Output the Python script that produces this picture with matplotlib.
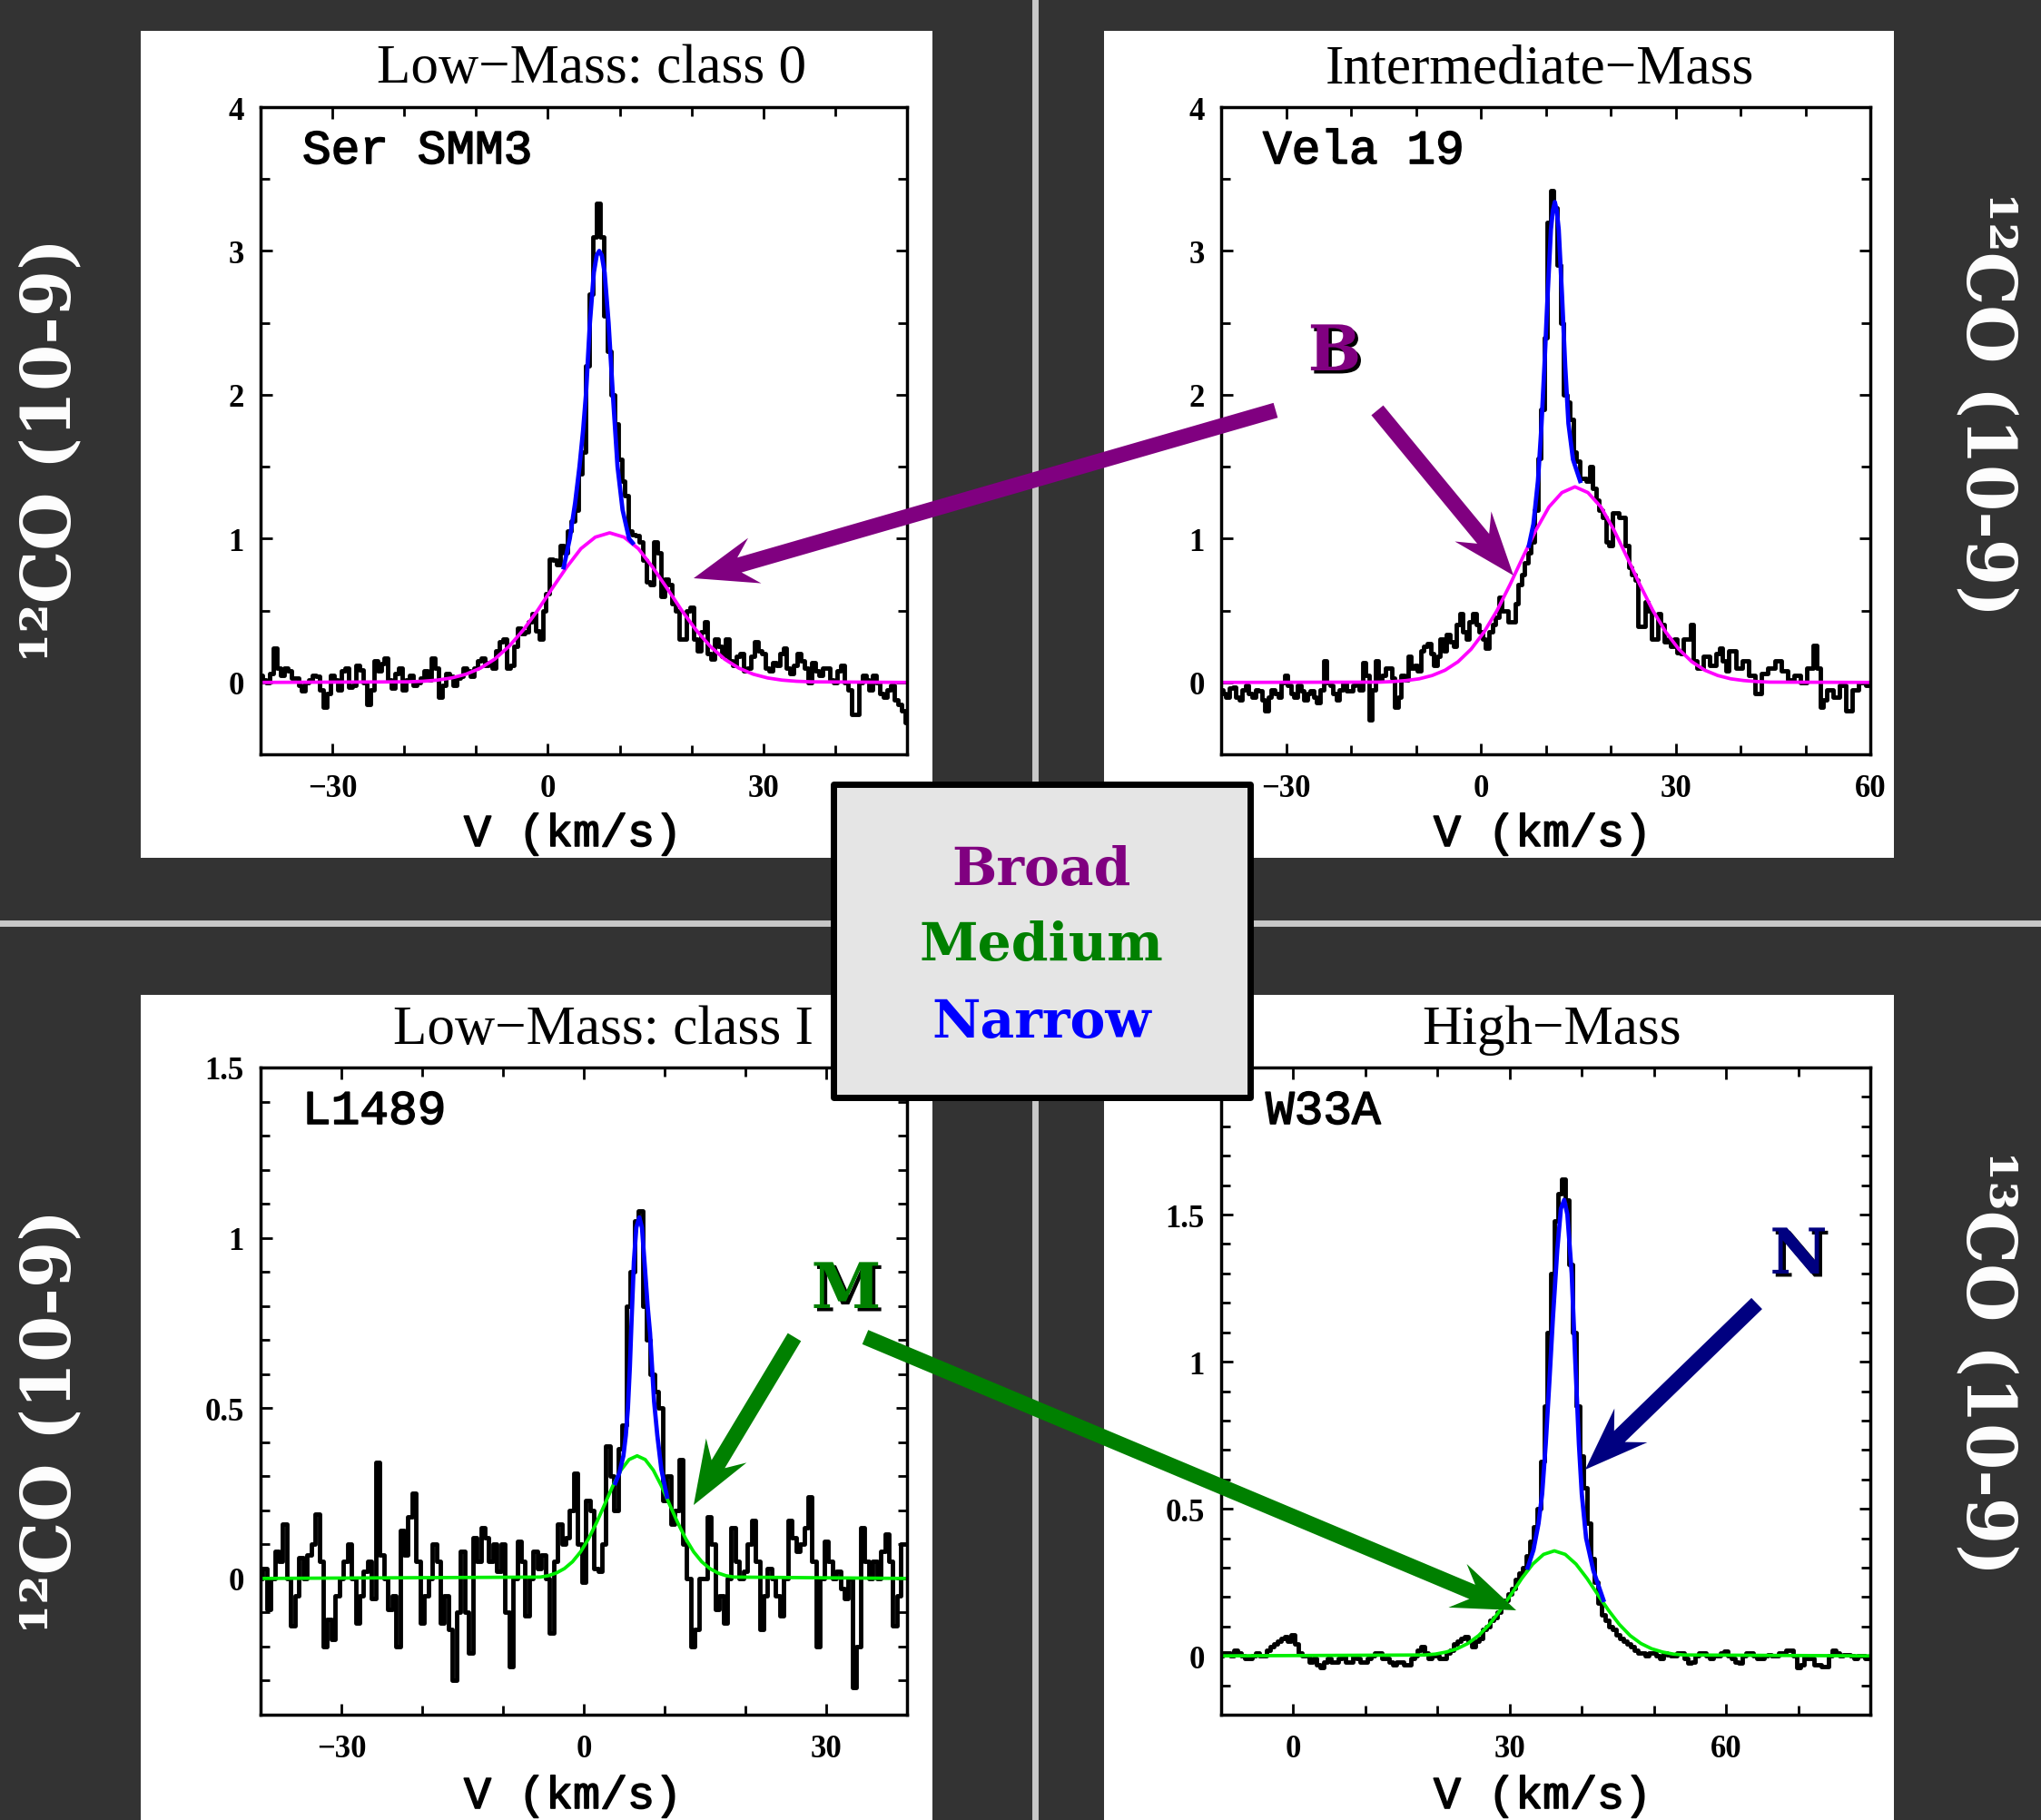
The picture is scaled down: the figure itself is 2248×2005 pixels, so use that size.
import numpy as np
import matplotlib.pyplot as plt
from matplotlib.patches import Rectangle, FancyArrow
from matplotlib.ticker import MultipleLocator
import matplotlib.patheffects as pe

W, H = 2248, 2006

# Ser SMM3 (low-mass class 0), 12CO 10-9, 0.5 km/s channels
ser_v = np.arange(-40, 50.25, 0.5)
ser_t = [0.05, 0.02, 0.0, 0.06, 0.24, 0.1, 0.05, 0.1, 0.08, 0.03,
         0.03, -0.02, -0.06, 0.0, 0.02, 0.05, 0.04, -0.05, -0.17, -0.08,
         0.05, 0.02, -0.05, 0.08, 0.1, -0.03, -0.02, 0.12, 0.09, 0.0,
         -0.15, -0.05, 0.15, 0.08, 0.13, 0.17, 0.02, -0.04, 0.06, 0.1,
         -0.05, 0.02, 0.05, -0.02, 0.0, 0.03, 0.08, 0.02, 0.17, 0.1,
         -0.1, -0.02, 0.06, 0.04, -0.02, 0.03, 0.04, 0.1, 0.08, 0.04,
         0.1, 0.15, 0.17, 0.12, 0.14, 0.1, 0.22, 0.28, 0.3, 0.1,
         0.12, 0.25, 0.38, 0.34, 0.35, 0.42, 0.48, 0.36, 0.3, 0.5,
         0.62, 0.86, 0.85, 0.82, 0.95, 0.9, 1.05, 1.12, 1.2, 1.45,
         1.6, 2.2, 2.7, 3.1, 3.33, 3.1, 2.55, 2.3, 2.0, 1.8,
         1.55, 1.4, 1.3, 1.05, 1.03, 1.02, 0.98, 0.85, 0.7, 0.68,
         0.98, 0.9, 0.6, 0.72, 0.68, 0.55, 0.5, 0.3, 0.3, 0.5,
         0.52, 0.3, 0.22, 0.35, 0.42, 0.2, 0.16, 0.3, 0.25, 0.18,
         0.3, 0.15, 0.12, 0.18, 0.2, 0.08, 0.1, 0.18, 0.28, 0.22,
         0.2, 0.1, 0.08, 0.14, 0.12, 0.2, 0.24, 0.1, 0.06, 0.12,
         0.2, 0.15, 0.1, 0.0, 0.14, 0.08, 0.05, 0.1, 0.1, 0.02,
         0.0, 0.08, 0.12, 0.0, -0.05, -0.22, -0.22, 0.0, 0.05, 0.02,
         -0.05, 0.05, 0.0, -0.08, -0.1, -0.05, -0.02, -0.12, -0.15, -0.2,
         -0.28]
ser_narrow_v = [2.2, 3.05, 3.8, 4.4, 4.9, 5.3, 5.85, 6.4, 6.8, 7.15, 7.5, 7.9, 8.45, 9.05, 9.7, 10.4, 11.3, 11.8]
ser_narrow_t = [0.8, 1.0, 1.25, 1.5, 1.75, 2.0, 2.5, 2.85, 2.97, 3.0, 2.97, 2.85, 2.5, 2.0, 1.5, 1.2, 1.0, 0.97]
ser_broad_v = [-40, -19.4, -17.4, -15.4, -13.4, -11.4, -9.4, -7.4, -5.4, -3.4, -1.4, 0.6, 2.6, 4.6, 6.6, 8.6,
               10.6, 12.6, 14.6, 16.6, 18.6, 20.6, 22.6, 24.6, 26.6, 28.6, 30.6, 32.6, 34.6, 36.6, 50]
ser_broad_t = [0, 0.004, 0.008, 0.016, 0.031, 0.057, 0.099, 0.162, 0.251, 0.366, 0.503, 0.654, 0.80, 0.93, 1.01, 1.04,
               1.01, 0.93, 0.80, 0.654, 0.503, 0.366, 0.251, 0.162, 0.099, 0.057, 0.031, 0.016, 0.008, 0.004, 0]

# Vela 19 (intermediate mass)
vela_v = np.arange(-40, 60.25, 0.5)
vela_t = [-0.05, -0.08, -0.1, -0.04, -0.03, -0.1, -0.12, -0.05, -0.02, -0.08,
          -0.1, -0.05, -0.06, -0.12, -0.2, -0.1, -0.05, -0.08, -0.1, 0.0,
          0.05, -0.02, -0.08, -0.1, -0.02, -0.06, -0.12, -0.08, -0.06, -0.1,
          -0.14, -0.05, 0.15, 0.0, -0.02, -0.08, -0.12, -0.05, 0.0, -0.06,
          -0.06, -0.02, 0.0, -0.05, 0.14, 0.05, -0.26, -0.05, 0.15, 0.02,
          0.05, 0.1, 0.1, 0.03, -0.17, -0.1, 0.05, 0.02, 0.18, 0.1,
          0.12, 0.08, 0.22, 0.25, 0.27, 0.2, 0.12, 0.18, 0.3, 0.22,
          0.33, 0.28, 0.25, 0.4, 0.48, 0.35, 0.3, 0.42, 0.48, 0.4,
          0.35, 0.3, 0.24, 0.35, 0.4, 0.45, 0.59, 0.5, 0.5, 0.42,
          0.42, 0.55, 0.68, 0.75, 0.83, 0.9, 0.98, 1.2, 1.56, 1.9,
          2.4, 3.2, 3.42, 3.3, 2.9, 2.5, 2.0, 1.95, 1.83, 1.6,
          1.54, 1.42, 1.42, 1.4, 1.5, 1.35, 1.27, 1.2, 1.15, 0.98,
          0.95, 1.18, 1.18, 1.15, 1.15, 0.95, 0.8, 0.75, 0.71, 0.39,
          0.39, 0.56, 0.5, 0.3, 0.3, 0.48, 0.4, 0.28, 0.3, 0.25,
          0.3, 0.21, 0.2, 0.3, 0.3, 0.4, 0.15, 0.1, 0.1, 0.18,
          0.18, 0.12, 0.12, 0.2, 0.24, 0.15, 0.08, 0.22, 0.22, 0.1,
          0.1, 0.15, 0.15, 0.05, 0.05, -0.08, -0.08, 0.06, 0.06, 0.1,
          0.1, 0.15, 0.15, 0.08, 0.08, 0.02, 0.02, 0.05, 0.05, 0.0,
          0.0, 0.1, 0.1, 0.26, 0.1, -0.17, -0.12, -0.05, -0.05, -0.1,
          -0.1, -0.02, -0.02, -0.2, -0.2, -0.05, -0.05, 0.0, 0.0, -0.02,
          -0.02]
vela_narrow_v = [7.4, 8.1, 8.8, 9.3, 9.8, 10.3, 10.8, 11.1, 11.4, 11.7, 12.0, 12.5, 13.0, 13.5, 14.2, 15.3]
vela_narrow_t = [0.95, 1.1, 1.4, 1.75, 2.2, 2.7, 3.15, 3.28, 3.34, 3.28, 3.15, 2.7, 2.2, 1.8, 1.55, 1.4]
vela_broad_v = [-40, -15.5, -13.5, -11.5, -9.5, -7.5, -5.5, -3.5, -1.5, 0.5, 2.5, 4.5, 6.5, 8.5, 10.5, 12.5, 14.5,
                16.5, 18.5, 20.5, 22.5, 24.5, 26.5, 28.5, 30.5, 32.5, 34.5, 36.5, 38.5, 40.5, 42.5, 44.5, 60]
vela_broad_t = [0, 0.002, 0.006, 0.013, 0.025, 0.048, 0.085, 0.144, 0.231, 0.35, 0.50, 0.68, 0.873, 1.06, 1.22, 1.32, 1.36,
                1.32, 1.22, 1.06, 0.873, 0.68, 0.50, 0.35, 0.231, 0.144, 0.085, 0.048, 0.025, 0.013, 0.006, 0.002, 0]

# L1489 (low-mass class I)
l1489_v = np.arange(-40, 40.25, 0.5)
l1489_t = [0.0, 0.03, -0.09, 0.0, 0.08, 0.05, 0.16, 0.0, -0.14, -0.05,
           0.06, 0.0, 0.07, 0.1, 0.19, 0.05, -0.2, -0.12, -0.18, -0.05,
           0.0, 0.05, 0.1, 0.0, -0.13, -0.05, 0.02, 0.05, -0.06, 0.34,
           0.07, 0.0, -0.09, -0.05, -0.2, 0.14, 0.07, 0.18, 0.25, 0.05,
           -0.13, -0.05, 0.0, 0.1, 0.05, -0.13, -0.05, -0.15, -0.3, -0.1,
           0.08, -0.1, -0.22, 0.12, 0.05, 0.15, 0.12, 0.05, 0.1, 0.02,
           0.1, -0.1, -0.26, 0.0, 0.11, 0.05, -0.11, 0.0, 0.08, 0.03,
           0.07, 0.0, -0.16, 0.05, 0.16, 0.1, 0.12, 0.2, 0.31, 0.1,
           -0.01, 0.23, 0.2, 0.03, 0.02, 0.1, 0.39, 0.3, 0.2, 0.38,
           0.45, 0.8, 0.9, 1.05, 1.08, 0.8, 0.7, 0.6, 0.55, 0.5,
           0.23, 0.3, 0.16, 0.2, 0.35, 0.1, 0.0, -0.2, -0.15, 0.0,
           0.0, 0.18, 0.1, -0.09, -0.05, -0.13, 0.0, 0.15, 0.05, 0.0,
           0.02, 0.1, 0.17, 0.05, -0.15, -0.05, 0.03, 0.0, -0.05, -0.11,
           0.0, 0.17, 0.12, 0.08, 0.1, 0.15, 0.24, 0.05, -0.2, 0.0,
           0.11, 0.05, 0.0, 0.02, -0.03, -0.06, 0.0, -0.32, -0.2, 0.15,
           0.05, 0.0, 0.05, 0.0, 0.08, 0.13, 0.05, -0.14, -0.05, 0.1,
           0.1]
l1489_narrow_v = [3.9, 4.4, 4.9, 5.2, 5.46, 5.7, 5.9, 6.2, 6.5, 6.87, 7.2, 7.6, 7.9, 8.2, 8.7, 9.1, 9.6, 10.3]
l1489_narrow_t = [0.28, 0.31, 0.36, 0.42, 0.5, 0.62, 0.75, 0.93, 1.03, 1.06, 1.03, 0.9, 0.8, 0.72, 0.52, 0.42, 0.32, 0.24]
l1489_medium_v = [-40, -5.4, -4.4, -3.4, -2.4, -1.4, -0.4, 0.6, 1.6, 2.6, 3.6, 4.6, 5.6, 6.6,
                  7.6, 8.6, 9.6, 10.6, 11.6, 12.6, 13.6, 14.6, 15.6, 16.6, 17.6, 18.6, 40]
l1489_medium_t = [0, 0.004, 0.008, 0.016, 0.029, 0.049, 0.078, 0.117, 0.165, 0.218, 0.272, 0.318, 0.349, 0.36,
                  0.349, 0.318, 0.272, 0.218, 0.165, 0.117, 0.078, 0.049, 0.029, 0.016, 0.008, 0.004, 0]

# W33A (high mass), 13CO 10-9
w33a_v = np.arange(-10, 80.25, 0.5)
w33a_t = [0.0, 0.01, 0.01, 0.0, 0.02, 0.01, 0.0, -0.01, -0.01, 0.0,
          0.01, 0.0, 0.0, 0.02, 0.03, 0.04, 0.05, 0.06, 0.065, 0.05,
          0.072, 0.04, 0.01, 0.0, 0.0, -0.02, -0.01, -0.03, -0.04, -0.02,
          -0.01, -0.02, -0.02, -0.01, 0.0, -0.02, -0.02, 0.0, -0.01, -0.02,
          -0.02, -0.01, 0.0, 0.01, 0.01, -0.01, -0.01, -0.02, -0.03, -0.02,
          -0.02, -0.03, -0.03, -0.01, 0.0, 0.02, 0.03, 0.01, -0.01, 0.0,
          0.0, -0.01, -0.01, 0.01, 0.02, 0.04, 0.05, 0.06, 0.065, 0.05,
          0.03, 0.05, 0.06, 0.09, 0.1, 0.12, 0.13, 0.15, 0.17, 0.19,
          0.21, 0.23, 0.26, 0.28, 0.3, 0.34, 0.39, 0.44, 0.5, 0.66,
          0.85, 1.1, 1.3, 1.48, 1.57, 1.62, 1.55, 1.33, 1.1, 0.85,
          0.68, 0.57, 0.45, 0.33, 0.25, 0.18, 0.14, 0.12, 0.1, 0.09,
          0.07, 0.06, 0.05, 0.04, 0.03, 0.02, 0.01, 0.01, 0.0, 0.01,
          0.01, 0.0, -0.01, 0.01, 0.005, 0.0, 0.0, 0.01, 0.01, -0.01,
          -0.025, -0.02, 0.0, 0.01, 0.01, 0.0, -0.01, 0.0, 0.0, 0.01,
          0.015, 0.0, -0.01, -0.02, -0.025, 0.0, 0.01, 0.01, 0.0, -0.01,
          -0.01, 0.0, 0.005, 0.0, 0.0, 0.01, 0.01, 0.02, 0.02, 0.0,
          -0.04, -0.03, 0.0, -0.01, -0.01, -0.03, -0.03, -0.035, -0.035, 0.0,
          0.02, 0.01, 0.0, 0.005, 0.005, 0.0, -0.01, 0.0, 0.0, -0.01,
          -0.01]
w33a_narrow_v = [32.5, 33.3, 34.0, 34.5, 35.0, 35.5, 36.0, 36.6, 37.1, 37.56, 38.0, 38.6, 39.1, 39.6, 40.0, 40.6, 41.6, 43.0]
w33a_narrow_t = [0.30, 0.36, 0.45, 0.55, 0.72, 0.93, 1.15, 1.38, 1.52, 1.55, 1.5, 1.3, 1.0, 0.72, 0.55, 0.4, 0.29, 0.19]
w33a_medium_v = [-10, 18.2, 19.7, 21.2, 22.7, 24.2, 25.7, 27.2, 28.7, 30.2, 31.7, 33.2, 34.7, 36.2,
                 37.7, 39.2, 40.7, 42.2, 43.7, 45.2, 46.7, 48.2, 49.7, 51.2, 52.7, 54.2, 80]
w33a_medium_t = [0, 0.003, 0.006, 0.013, 0.024, 0.042, 0.069, 0.107, 0.155, 0.209, 0.264, 0.312, 0.345, 0.357,
                 0.345, 0.312, 0.264, 0.209, 0.155, 0.107, 0.069, 0.042, 0.024, 0.013, 0.006, 0.003, 0]

titles = ['Low\u2212Mass: class 0', 'Intermediate\u2212Mass', 'Low\u2212Mass: class I', 'High\u2212Mass']
sources = ['Ser SMM3', 'Vela 19', 'L1489', 'W33A']


def px_rect(x0, y0, x1, y1):
    return [x0 / W, 1 - y1 / H, (x1 - x0) / W, (y1 - y0) / H]


fig = plt.figure(figsize=(W / 100, H / 100), dpi=100, facecolor='#333333')

# background: separators and white panels
bg = fig.add_axes([0, 0, 1, 1], zorder=0)
bg.set_xlim(0, W)
bg.set_ylim(H, 0)
bg.axis('off')
bg.plot([1140, 1140], [0, H], color='#c8c8c8', lw=5)
bg.plot([0, W], [1018, 1018], color='#c8c8c8', lw=5)
for x0, y0, x1, y1 in [(155, 35, 1027, 946), (1216, 35, 2086, 946),
                       (155, 1097, 1027, 2006), (1216, 1097, 2086, 2006)]:
    bg.add_patch(Rectangle((x0, y0), x1 - x0, y1 - y0, facecolor='white', edgecolor='none', zorder=2))

panels = [
    dict(rect=(287, 119, 999, 832), v=ser_v, t=ser_t, nv=ser_narrow_v, nt=ser_narrow_t,
         bv=ser_broad_v, bt=ser_broad_t, bcol='#ff00ff', xlim=(-40, 50), ylim=(-0.5, 4),
         xt=[-30, 0, 30], yt=[0, 1, 2, 3, 4], ymin=0.5),
    dict(rect=(1345, 119, 2060, 832), v=vela_v, t=vela_t, nv=vela_narrow_v, nt=vela_narrow_t,
         bv=vela_broad_v, bt=vela_broad_t, bcol='#ff00ff', xlim=(-40, 60), ylim=(-0.5, 4),
         xt=[-30, 0, 30, 60], yt=[0, 1, 2, 3, 4], ymin=0.5),
    dict(rect=(287, 1177, 999, 1890), v=l1489_v, t=l1489_t, nv=l1489_narrow_v, nt=l1489_narrow_t,
         bv=l1489_medium_v, bt=l1489_medium_t, bcol='#00ee00', xlim=(-40, 40), ylim=(-0.4, 1.5),
         xt=[-30, 0, 30], yt=[0, 0.5, 1, 1.5], ymin=0.1),
    dict(rect=(1345, 1177, 2060, 1890), v=w33a_v, t=w33a_t, nv=w33a_narrow_v, nt=w33a_narrow_t,
         bv=w33a_medium_v, bt=w33a_medium_t, bcol='#00ee00', xlim=(-10, 80), ylim=(-0.2, 2),
         xt=[0, 30, 60], yt=[0, 0.5, 1, 1.5], ymin=0.1),
]

tick_font = dict(family='Liberation Serif', weight='bold', size=25)
for p in panels:
    ax = fig.add_axes(px_rect(*p['rect']), zorder=2)
    ax.plot(p['v'], p['t'], drawstyle='steps-mid', color='black', lw=3.5)
    ax.plot(p['bv'], p['bt'], color=p['bcol'], lw=2.7)
    ax.plot(p['nv'], p['nt'], color='#0000ff', lw=3.4)
    ax.set_xlim(*p['xlim'])
    ax.set_ylim(*p['ylim'])
    ax.set_xticks(p['xt'])
    ax.set_xticklabels([f'{x:g}'.replace('-', '\u2212') for x in p['xt']], fontdict=tick_font)
    ax.set_yticks(p['yt'])
    ax.set_yticklabels([f'{y:g}' for y in p['yt']], fontdict=tick_font)
    ax.xaxis.set_minor_locator(MultipleLocator(10))
    ax.yaxis.set_minor_locator(MultipleLocator(p['ymin']))
    ax.tick_params(which='both', direction='in', top=True, right=True, width=2)
    ax.tick_params(which='major', length=9)
    ax.tick_params(which='minor', length=7)
    ax.tick_params(axis='x', pad=15)
    ax.tick_params(axis='y', pad=13)
    for s in ax.spines.values():
        s.set_linewidth(2.5)

# overlay for texts, legend box and arrows
ov = fig.add_axes([0, 0, 1, 1], zorder=10)
ov.set_xlim(0, W)
ov.set_ylim(H, 0)
ov.axis('off')
ov.patch.set_alpha(0)

heavier = [pe.withStroke(linewidth=1.2, foreground='black')]

title_pos = [(652, 91), (1696, 91), (664, 1150), (1709, 1150)]
for s, (x, y) in zip(titles, title_pos):
    ov.text(x, y, s, ha='center', va='baseline', fontsize=44, family='Liberation Serif')

src_pos = [(333, 181), (1391, 181), (333, 1239), (1394, 1239)]
for s, (x, y) in zip(sources, src_pos):
    ov.text(x, y, s, ha='left', va='baseline', fontsize=38, family='Liberation Mono', path_effects=heavier)

for x, y in [(631, 933), (1699, 933), (631, 1993), (1699, 1993)]:
    ov.text(x, y, 'V (km/s)', ha='center', va='baseline', fontsize=36, family='Liberation Mono',
            path_effects=heavier)

side = dict(color='white', fontsize=53, family='DejaVu Serif', weight='bold', ha='center', va='center')
ov.text(57, 495, '\u00b9\u00b2CO (10-9)', rotation=90, **side)
ov.text(57, 1566, '\u00b9\u00b2CO (10-9)', rotation=90, **side)
ov.text(2187, 445, '\u00b9\u00b2CO (10-9)', rotation=-90, **side)
ov.text(2187, 1501, '\u00b9\u00b3CO (10-9)', rotation=-90, **side)

# legend box
ov.add_patch(Rectangle((918, 865), 459, 345, facecolor='#e5e5e5', edgecolor='black', lw=5, joinstyle='round'))
leg = dict(ha='center', va='baseline', fontsize=42, family='DejaVu Serif', weight='bold')
ov.text(1147, 975, 'Broad', color='#800080', **leg)
ov.text(1147, 1058, 'Medium', color='#008000', **leg)
ov.text(1147, 1143, 'Narrow', color='#0000ff', **leg)

# arrows
arrows = [((1405, 453), (764, 638), '#800080'),
          ((1517, 453), (1667, 635), '#800080'),
          ((875, 1474), (764, 1659), '#008000'),
          ((953, 1474), (1670, 1775), '#008000'),
          ((1935, 1437), (1746, 1620), '#000080')]
for (x0, y0), (x1, y1), c in arrows:
    ov.add_patch(FancyArrow(x0, y0, x1 - x0, y1 - y0, width=17, head_width=52, head_length=70,
                            overhang=0.25, length_includes_head=True, color=c, lw=0))

shadow = [pe.withSimplePatchShadow(offset=(2.5, -2.5), shadow_rgbFace='black', alpha=1.0)]
let = dict(ha='center', va='baseline', fontsize=50, family='DejaVu Serif', weight='bold', path_effects=shadow)
ov.text(1470, 409, 'B', color='#800080', **let)
ov.text(932, 1442, 'M', color='#008000', **let)
ov.text(1981, 1404, 'N', color='#000080', **let)

fig.savefig('out.png', dpi=100, facecolor=fig.get_facecolor())
